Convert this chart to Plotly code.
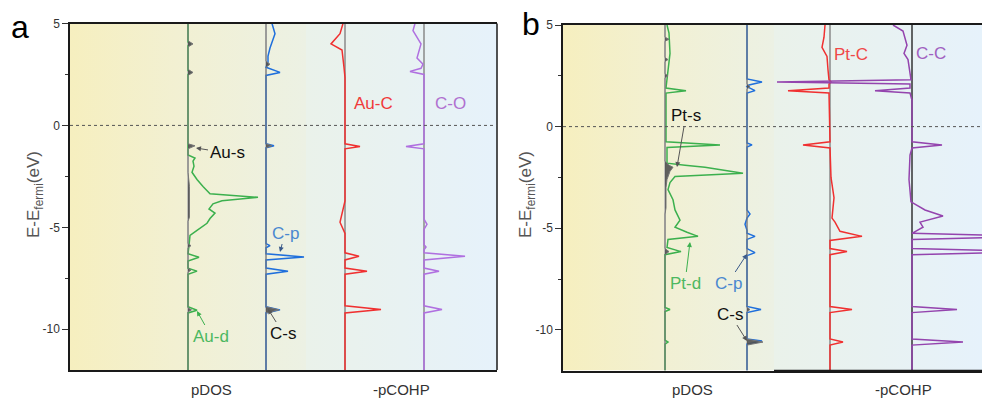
import plotly.graph_objects as go

# ---------------- data (energy in eV, DOS / -pCOHP in arbitrary units) -------------
# Panel a
AU_D_E = [5, 4.1, 4.0, 3.9, 2.7, 2.6, 2.5, -1.45, -1.6, -1.75, -2.0, -2.3, -2.65, -3.0, -3.35,
          -3.53, -3.7, -3.85, -4.1, -4.3, -4.57, -4.8, -5.15, -5.4, -5.9, -6.3, -6.47, -6.65,
          -7.0, -7.15, -7.3, -8.9, -9.07, -9.2, -12]
AU_D_V = [0, 0, 2, 0, 0, 2, 0, 0, 7, 5, 6, 4, 9, 15, 22, 70, 34, 25, 21, 27, 22, 19, 9, 2, 1,
          0, 11, 0, 0, 9, 0, 0, 9, 0, 0]
AU_S_E = [5, 4.15, 4.0, 3.85, 2.75, 2.6, 2.45, -0.9, -1.0, -1.15, -2.3, -3.0, -4.5, -4.7,
          -5.8, -5.9, -6.0, -7.0, -7.1, -7.2, -8.95, -9.05, -9.15, -12]
AU_S_V = [0, 0, 5, 0, 0, 5, 0, 0, 7, 0, 0, 1.5, 1.5, 0, 0, 3, 0, 0, 3, 0, 0, 3.5, 0, 0]
CP_A_E = [5, 4.5, 3.8, 3.4, 3.1, 2.85, 2.6, 2.45, -0.9, -1.0, -1.1, -5.8, -5.9, -6.0, -6.3,
          -6.45, -6.6, -7.0, -7.15, -7.3, -8.9, -9.05, -9.2, -12]
CP_A_V = [6, 9, 4, 2, 2, 0, 14, 0, 0, 8, 0, 0, 4, 0, 0, 38, 0, 0, 22, 0, 0, 14, 0, 0]
CS_A_E = [5, 3.15, 3.0, 2.85, -0.9, -1.0, -1.1, -8.9, -9.05, -9.2, -12]
CS_A_V = [0, 0, 4, 0, 0, 6, 0, 0, 13, 0, 0]
AUC_E = [5, 4.5, 4.0, 3.7, 2.85, 2.35, -0.9, -1.03, -1.15, -3.7, -4.75, -5.3, -6.25, -6.42,
         -6.6, -7.0, -7.15, -7.3, -8.85, -9.03, -9.2, -12]
AUC_V = [-2, -5, -14, -3, -1, 0, 0, 15, 0, 0, -5, 0, 0, 14, 0, 0, 22, 0, 0, 36, 0, 0]
CO_E = [5, 4.65, 4.0, 3.3, 3.0, 2.8, 2.65, 2.5, -0.9, -1.03, -1.15, -4.6, -4.85, -5.1, -5.85,
        -5.97, -6.1, -6.25, -6.42, -6.6, -7.0, -7.15, -7.3, -8.85, -9.03, -9.2, -12]
CO_V = [-9, -11, -3, -7, -1, -3, -14, 0, 0, -18, 0, 0, 3, 0, 0, 2, 0, 0, 41, 0, 0, 15, 0, 0,
        18, 0, 0]

# Panel b
PT_D_E = [5, 4.6, 3.6, 2.8, 2.2, 1.9, 1.77, 1.65, -0.75, -0.9, -1.03, -1.8, -1.9, -2.0, -2.3,
          -2.45, -2.75, -3.1, -3.6, -4.1, -4.6, -4.8, -4.95, -5.2, -5.4, -5.55, -5.95, -6.15,
          -6.3, -8.9, -9.0, -9.1, -10.5, -10.6, -10.7, -12]
PT_D_V = [2, 4, 5, 3, 2, 1, 21, 1, 1, 55, 2, 2, 20, 40, 78, 10, 5, 3, 8, 10, 15, 12, 10, 22,
          33, 3, 2, 16, 0, 0, 5, 0, 0, 3, 0, 0]
PT_S_E = [5, 4.4, 4.3, 4.2, 3.4, 3.3, 3.2, 2.6, 2.5, 2.4, -1.7, -1.9, -2.0, -2.2, -2.6, -3.0,
          -4.0, -4.3, -6.0, -6.15, -6.3, -12]
PT_S_V = [0, 0, 4, 0, 0, 3, 0, 0, 3, 0, 0, 4, 8, 5, 2, 1, 1, 0, 0, 4, 0, 0]
CP_B_E = [5, 2.35, 2.2, 2.05, 1.97, 1.77, 1.65, -0.8, -0.9, -1.0, -4.1, -4.3, -4.5, -4.8,
          -5.1, -5.25, -5.4, -5.55, -6.0, -6.2, -6.35, -8.85, -9.0, -9.15, -10.45, -10.55,
          -10.7, -12]
CP_B_V = [0, 0, 15, 2, 0, 8, 0, 0, 5, 0, 0, 3, 0, -2, 0, 0, 8, 0, 0, 8, 0, 0, 14, 0, 0, 15,
          0, 0]
CS_B_E = [5, 2.1, 1.97, 1.85, -8.9, -9.0, -9.1, -10.45, -10.6, -10.75, -12]
CS_B_V = [0, 0, 3, 0, 0, 3, 0, 0, 16, 0, 0]
PTC_E = [5, 4.4, 3.9, 3.45, 2.8, 2.3, 2.2, 2.1, 1.9, 1.77, 1.65, -0.75, -0.9, -1.05, -2.5,
         -3.5, -4.5, -4.7, -5.15, -5.4, -5.6, -6.0, -6.15, -6.3, -8.85, -9.0, -9.15, -10.45,
         -10.6, -10.75, -12]
PTC_V = [-5, -6, -8, -3, -2, -1, 1, -1, -1, -42, -1, 0, -27, 0, 1, 4, 2, 5, 10, 32, 0, 0, 17,
         0, 0, 22, 0, 0, 13, 0, 0]
CC_E = [5, 4.7, 4.0, 3.6, 3.3, 2.55, 2.3, 2.2, 2.1, 1.9, 1.77, 1.65, 1.3, -0.75, -0.9, -1.05,
        -1.4, -2.6, -3.7, -4.1, -4.4, -4.7, -4.95, -5.25, -5.4, -5.55, -6.0, -6.15, -6.3,
        -8.85, -9.0, -9.15, -10.45, -10.6, -10.75, -12]
CC_V = [-19, -9, -5, -8, -4, -2, -1, -135, -2, -2, -37, -2, 0, 0, 30, 0, -2, -3, -1, 13, 31, 8,
        11, 0, 120, 0, 0, 120, 0, 0, 45, 0, 0, 51, 0, 0]

Y_TICKS = [5, 0, -5, -10]
Y_RANGE = [-12, 5]

# ---------------- layout geometry ----------------
W, H = 982, 405
def px(v):
    return v / W
def py(v):
    return 1 - v / H

GREEN = '#3cb04e'
BLUE = '#1f6fdc'
RED = '#f03030'
PURPLE_A = '#b070e0'
PURPLE_B = '#9444ae'
FONT = 'Liberation Sans, Arial, sans-serif'

fig = go.Figure()

def bg(xa, ya, xmax, stops):
    fig.add_trace(go.Scatter(x=[0, xmax, xmax, 0, 0], y=[-12, -12, 5, 5, -12], mode='lines',
                             line=dict(width=0), fill='toself',
                             fillgradient=dict(type='horizontal', colorscale=stops),
                             hoverinfo='skip', showlegend=False, xaxis=xa, yaxis=ya))

YEL = [[0, '#f6efbf'], [0.45, '#f2f0d2'], [1, '#ecf1e4']]
BLU = [[0, '#eaf2ea'], [0.5, '#e8f2f2'], [1, '#e6f2fb']]
bg('x', 'y', 236, YEL)
bg('x2', 'y', 191, BLU)
bg('x3', 'y2', 211, YEL)
bg('x4', 'y2', 208, BLU)

def zero(xa, ya, base, color='#8a8a8a'):
    fig.add_trace(go.Scatter(x=[base, base], y=Y_RANGE, mode='lines',
                             line=dict(color=color, width=1.5), hoverinfo='skip',
                             showlegend=False, xaxis=xa, yaxis=ya))

def curve(xa, ya, base, E, V, color, width=1.5):
    fig.add_trace(go.Scatter(x=[base + v for v in V], y=E, mode='lines',
                             line=dict(color=color, width=width), showlegend=False,
                             xaxis=xa, yaxis=ya))

def filled(xa, ya, base, E, V):
    fig.add_trace(go.Scatter(x=[base + v for v in V], y=E, mode='lines', fill='toself',
                             fillcolor='rgba(80,80,80,0.9)',
                             line=dict(color='#777777', width=1), showlegend=False,
                             xaxis=xa, yaxis=ya))

# panel a
zero('x', 'y', 118, '#b0b0b0'); zero('x', 'y', 196, '#b0b0b0')
zero('x2', 'y', 39); zero('x2', 'y', 118)
curve('x', 'y', 118, AU_D_E, AU_D_V, GREEN)
curve('x', 'y', 196, CP_A_E, CP_A_V, BLUE)
filled('x', 'y', 118, AU_S_E, AU_S_V)
filled('x', 'y', 196, CS_A_E, CS_A_V)
curve('x2', 'y', 39, AUC_E, AUC_V, RED)
curve('x2', 'y', 118, CO_E, CO_V, PURPLE_A)

# panel b
zero('x3', 'y2', 102, '#b0b0b0'); zero('x3', 'y2', 184, '#b0b0b0')
zero('x4', 'y2', 56); zero('x4', 'y2', 138, '#333333')
curve('x3', 'y2', 102, PT_D_E, PT_D_V, GREEN)
curve('x3', 'y2', 184, CP_B_E, CP_B_V, BLUE)
filled('x3', 'y2', 102, PT_S_E, PT_S_V)
filled('x3', 'y2', 184, CS_B_E, CS_B_V)
curve('x4', 'y2', 56, PTC_E, PTC_V, RED)
curve('x4', 'y2', 138, CC_E, CC_V, PURPLE_B)

xcommon = dict(showticklabels=False, ticks='', showgrid=False, zeroline=False,
               showline=True, mirror=True, linecolor='#1a1a1a', linewidth=1.5, fixedrange=True)
ycommon = dict(range=Y_RANGE, tickvals=Y_TICKS, ticktext=[str(t) for t in Y_TICKS],
               ticks='outside', ticklen=6, tickwidth=1, tickcolor='#333', showgrid=False,
               zeroline=False, showline=True, mirror=True, linecolor='#1a1a1a', linewidth=1.5,
               tickfont=dict(size=12, color='#333', family=FONT), fixedrange=True,
               minor=dict(tickvals=[2.5, -2.5, -7.5], ticks='outside', ticklen=3,
                          tickcolor='#333'))

fig.update_layout(
    width=W, height=H, margin=dict(l=0, r=0, t=0, b=0, autoexpand=False),
    paper_bgcolor='white', plot_bgcolor='rgba(0,0,0,0)', showlegend=False,
    font=dict(family=FONT),
    xaxis=dict(domain=[px(70), px(306)], anchor='y', range=[0, 236], **xcommon),
    xaxis2=dict(domain=[px(306), px(497)], anchor='y', range=[0, 191], **xcommon),
    xaxis3=dict(domain=[px(563), px(774)], anchor='y2', range=[0, 211], **xcommon),
    xaxis4=dict(domain=[px(774), 1.0], anchor='y2', range=[0, 208], **xcommon),
    yaxis=dict(domain=[py(370), py(23.5)], anchor='x', **ycommon),
    yaxis2=dict(domain=[py(370.5), py(25)], anchor='x3', **ycommon),
)

shapes = []
shapes.append(dict(type='line', xref='x2 domain', yref='y domain', x0=1, x1=1, y0=0, y1=1,
                   line=dict(color='#1a1a1a', width=1.5)))
shapes.append(dict(type='line', xref='x4 domain', yref='y2 domain', x0=0, x1=1, y0=0,
                   y1=0, line=dict(color='#1a1a1a', width=1.5)))
shapes.append(dict(type='line', xref='paper', yref='y', x0=px(70), x1=px(497), y0=0, y1=0,
                   line=dict(color='#555', width=1, dash='dot')))
shapes.append(dict(type='line', xref='paper', yref='y2', x0=px(563), x1=1, y0=0, y1=0,
                   line=dict(color='#555', width=1, dash='dot')))
fig.update_layout(shapes=shapes)

ann = []
def text(x, y, s, color, size=17, **kw):
    ann.append(dict(xref='paper', yref='paper', x=px(x), y=py(y), text=s, showarrow=False,
                    font=dict(size=size, color=color, family=FONT), xanchor='center',
                    yanchor='middle', **kw))

def label(s, color, tx, ty, hx, hy, acolor, size=17):
    # text centred at (tx, ty); arrow head at (hx, hy) -- all in figure pixels
    ann.append(dict(xref='paper', yref='paper', x=px(hx), y=py(hy), ax=tx - hx, ay=ty - hy,
                    axref='pixel', ayref='pixel', text=s, showarrow=True, arrowhead=2,
                    arrowsize=1, arrowwidth=1, arrowcolor=acolor, standoff=0,
                    font=dict(size=size, color=color, family=FONT)))

text(20, 27, 'a', 'black', 32)
text(531, 24, 'b', 'black', 32)
for xt in (35, 527):
    text(xt, 195, 'E-E<sub>fermi</sub>(eV)', '#555', 17, textangle=-90)
text(211, 389, 'pDOS', '#333', 15)
text(401, 389, '-pCOHP', '#333', 15)
text(692, 389, 'pDOS', '#333', 15)
text(903, 389, '-pCOHP', '#333', 15)

label('Au-s', '#111', 227, 153, 196, 148, '#555')
label('Au-d', '#4cb860', 211, 336, 197, 311, GREEN)
label('C-p', '#4a88d0', 285, 233, 280, 252, '#3a5a8a')
label('C-s', '#111', 283, 333, 268, 309, '#555')
text(373, 103, 'Au-C', '#f03a3a')
text(450, 103, 'C-O', '#b070d0')

label('Pt-s', '#111', 686, 115, 677, 167, '#555')
label('Pt-d', '#4cb860', 685, 283, 690, 242, GREEN)
label('C-p', '#4a88d0', 728, 283, 747, 254, '#3a5a8a')
label('C-s', '#111', 730, 314, 747, 341, '#555')
text(851, 55, 'Pt-C', '#f04848')
text(931, 53, 'C-C', '#a060c0')

fig.update_layout(annotations=ann)
fig.write_html('out.html', config={'displayModeBar': False},
               post_script="document.body.style.margin='0';")
